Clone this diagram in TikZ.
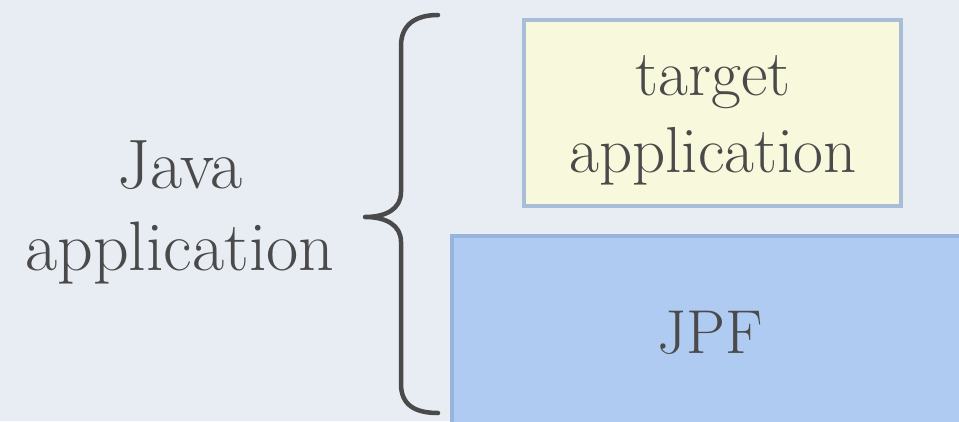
\documentclass[tikz,border=0pt]{standalone}
\usepackage{tikz}
\definecolor{paper}{HTML}{E8EDF3}
\definecolor{ink}{HTML}{4A4A4A}
\definecolor{yfill}{HTML}{F8F8DC}
\definecolor{yline}{HTML}{A9BDD9}
\definecolor{bfill}{HTML}{AFCBF2}
\definecolor{bline}{HTML}{98B3DC}
\tikzset{
  layerbox/.style={draw, line width=4pt, inner sep=0pt, outer sep=0pt, anchor=north west},
  lbl/.style={text=ink, align=center, inner sep=0pt, anchor=base},
  bracepath/.style={draw=ink, line width=4.5pt, line cap=round, line join=round},
}
\begin{document}
\begin{tikzpicture}[x=1pt, y=-1pt]
  % page
  \clip (0,0) rectangle (959,421);
  \fill[paper] (0,0) rectangle (959,421);

  % application layers
  \node[layerbox, fill=yfill, draw=yline, minimum width=377pt, minimum height=186pt] (target) at (524,20) {};
  \node[layerbox, fill=bfill, draw=bline, minimum width=518pt, minimum height=194pt] (jpf) at (452,236) {};

  % base anchor sits on the last line
  \node[lbl, font=\fontsize{65}{77}\selectfont] (targettxt) at (713,172) {target\\application};
  \node[lbl, font=\fontsize{62}{80}\selectfont] (jpftxt) at (710,353) {JPF};

  % left label and brace
  \node[lbl, font=\fontsize{70}{82}\selectfont] (java) at (180,270) {Java\\application};

  \coordinate (btop) at (438,15);
  \coordinate (btip) at (365,217);
  \coordinate (bbot) at (438,413);
  \draw[bracepath] (btop) .. controls (415,15) and (401,25) .. (401,46)
    -- (401,192) .. controls (401,209) and (386,217) .. (btip)
    .. controls (386,217) and (401,225) .. (401,242)
    -- (401,384) .. controls (401,405) and (415,413) .. (bbot);
\end{tikzpicture}
\end{document}
